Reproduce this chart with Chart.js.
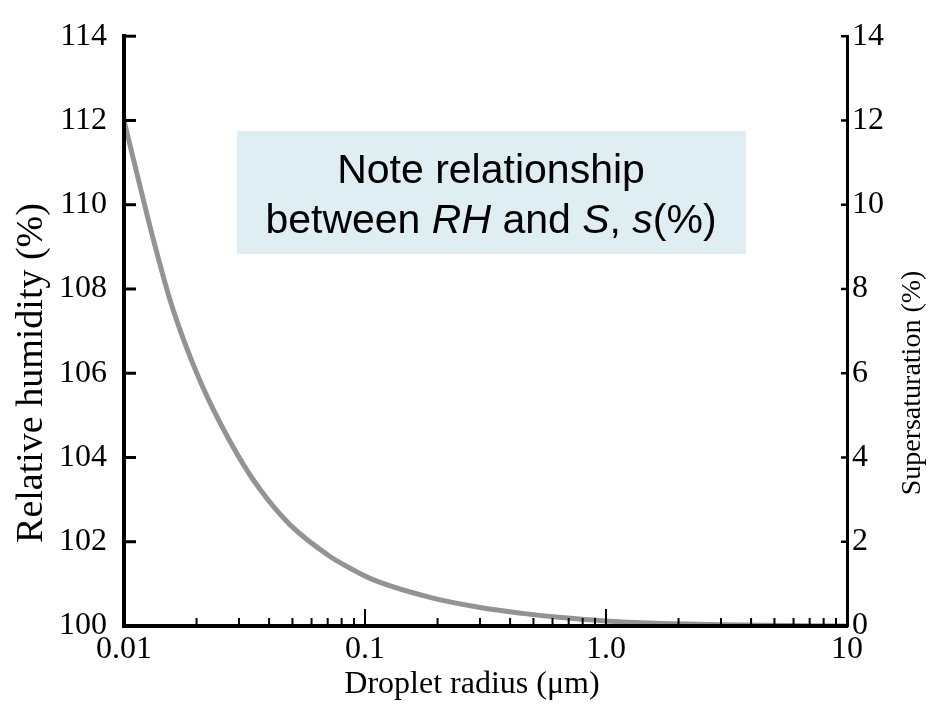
<!DOCTYPE html>
<html>
<head>
<meta charset="utf-8">
<script src="https://cdn.jsdelivr.net/npm/chart.js@4.4.1/dist/chart.umd.min.js"></script>
<style>
  html, body { margin: 0; padding: 0; background: #fff; }
  #wrap { width: 930px; height: 704px; position: relative; }
</style>
</head>
<body>
<div id="wrap"><canvas id="myChart"></canvas></div>
<script>
// droplet radius (um) and relative humidity (%)
const radius      = [0.01, 0.0117, 0.0132, 0.0155, 0.0182, 0.0221, 0.0297, 0.0366, 0.0489, 0.0716, 0.085, 0.108, 0.186, 0.3, 0.45, 0.65, 1.0, 1.5, 3.0, 10];
const relHumidity = [112.0, 110.4, 109.2, 107.75, 106.6, 105.45, 104.05, 103.25, 102.4, 101.65, 101.4, 101.1, 100.68, 100.44, 100.3, 100.2, 100.12, 100.07, 100.03, 100.0];

const rhTicks = [100, 102, 104, 106, 108, 110, 112, 114];
const ssTicks = [0, 2, 4, 6, 8, 10, 12, 14];
const xTickValues = [0.01, 0.1, 1, 10];
const xTickLabels = ['0.01', '0.1', '1.0', '10'];
const xMinorTicks = [0.02, 0.03, 0.04, 0.05, 0.06, 0.07, 0.08, 0.09,
                     0.2, 0.3, 0.4, 0.5, 0.6, 0.7, 0.8, 0.9,
                     2, 3, 4, 5, 6, 7, 8, 9];

const xTitle = 'Droplet radius (\u03BCm)';
const yTitle = 'Relative humidity (%)';
const y2Title = 'Supersaturation (%)';
const noteLine1 = 'Note relationship';
// [text, italic]
const noteLine2 = [['between ', false], ['RH', true], [' and ', false], ['S', true], [', ', false], ['s', true], ['(%)', false]];

const SERIF = '"Liberation Serif", "Times New Roman", serif';
const SANS = '"Liberation Sans", Arial, sans-serif';
const tickFont = { family: SERIF, size: 32 };

// tick marks point into the plot, so draw them here
const insideTicks = {
  id: 'insideTicks',
  afterDraw(chart) {
    const { ctx, chartArea: a, scales } = chart;
    function seg(x1, y1, x2, y2) { ctx.beginPath(); ctx.moveTo(x1, y1); ctx.lineTo(x2, y2); ctx.stroke(); }
    ctx.save();
    ctx.strokeStyle = '#000';
    ctx.lineWidth = 3;
    rhTicks.forEach(v => { const y = scales.y.getPixelForValue(v); seg(a.left, y, a.left + 12, y); });
    ctx.lineWidth = 2.5;
    ssTicks.forEach(v => { const y = scales.y2.getPixelForValue(v); seg(a.right - 6, y, a.right, y); });
    ctx.lineWidth = 2;
    xMinorTicks.forEach(v => { const x = scales.x.getPixelForValue(v); seg(x, a.bottom, x, a.bottom - 8); });
    [0.1, 1].forEach(v => { const x = scales.x.getPixelForValue(v); seg(x, a.bottom, x, a.bottom - 17); });
    ctx.restore();
  }
};

// axis titles and the note box
const extras = {
  id: 'extras',
  beforeDatasetsDraw(chart) {
    const ctx = chart.ctx;
    ctx.save();
    ctx.fillStyle = '#dfeef2';
    ctx.fillRect(237, 131, 509, 123);
    ctx.fillStyle = '#000';
    ctx.textBaseline = 'alphabetic';
    ctx.textAlign = 'center';
    ctx.font = '41px ' + SANS;
    ctx.fillText(noteLine1, 491, 183);
    // mixed italic line
    ctx.textAlign = 'left';
    let total = 0;
    noteLine2.forEach(([t, it]) => { ctx.font = (it ? 'italic ' : '') + '41px ' + SANS; total += ctx.measureText(t).width; });
    let x = 491 - total / 2;
    noteLine2.forEach(([t, it]) => {
      ctx.font = (it ? 'italic ' : '') + '41px ' + SANS;
      ctx.fillText(t, x, 233);
      x += ctx.measureText(t).width;
    });
    ctx.restore();
  },
  afterDraw(chart) {
    const ctx = chart.ctx;
    ctx.save();
    ctx.fillStyle = '#000';
    ctx.textAlign = 'center';
    ctx.textBaseline = 'alphabetic';
    ctx.font = '32px ' + SERIF;
    ctx.fillText(xTitle, 472, 693);

    ctx.save();
    ctx.translate(42, 373);
    ctx.rotate(-Math.PI / 2);
    ctx.font = '38px ' + SERIF;
    ctx.fillText(yTitle, 0, 0);
    ctx.restore();

    ctx.save();
    ctx.translate(920, 383);
    ctx.rotate(-Math.PI / 2);
    ctx.font = '28px ' + SERIF;
    ctx.fillText(y2Title, 0, 0);
    ctx.restore();
    ctx.restore();
  }
};

const ctx = document.getElementById('myChart');

new Chart(ctx, {
  type: 'line',
  data: {
    datasets: [{
      data: radius.map((r, i) => ({ x: r, y: relHumidity[i] })),
      borderColor: '#939393',
      borderWidth: 5,
      pointRadius: 0,
      cubicInterpolationMode: 'monotone',
      fill: false
    }]
  },
  options: {
    responsive: true,
    maintainAspectRatio: false,
    animation: false,
    layout: { padding: { top: 28, left: 0, right: 0, bottom: 0 } },
    plugins: { legend: { display: false }, tooltip: { enabled: false } },
    scales: {
      x: {
        type: 'logarithmic',
        min: 0.01,
        max: 10,
        afterBuildTicks: s => { s.ticks = xTickValues.map(v => ({ value: v })); },
        afterFit: s => { s.height = 78; },
        ticks: {
          autoSkip: false, maxRotation: 0, padding: 4, color: '#000', font: tickFont,
          callback: (v, i) => xTickLabels[i]
        },
        grid: { display: false, drawTicks: false },
        border: { color: '#000', width: 4, z: 1 }
      },
      y: {
        position: 'left',
        min: 100,
        max: 114,
        afterBuildTicks: s => { s.ticks = rhTicks.map(v => ({ value: v })); },
        afterFit: s => { s.width = 124; },
        ticks: { padding: 17, color: '#000', font: tickFont, callback: (v, i) => String(rhTicks[i]) },
        grid: { display: false, drawTicks: false },
        border: { color: '#000', width: 4, z: 1 }
      },
      y2: {
        position: 'right',
        min: 0,
        max: 14,
        afterBuildTicks: s => { s.ticks = ssTicks.map(v => ({ value: v })); },
        afterFit: s => { s.width = 83; },
        ticks: { padding: 5, color: '#000', font: tickFont, callback: (v, i) => String(ssTicks[i]) },
        grid: { display: false, drawTicks: false },
        border: { color: '#000', width: 3, z: 1 }
      }
    }
  },
  plugins: [extras, insideTicks]
});
</script>
</body>
</html>
